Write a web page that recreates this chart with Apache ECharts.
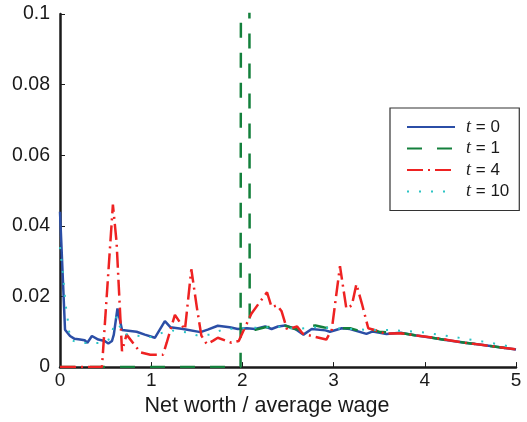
<!DOCTYPE html>
<html>
<head>
<meta charset="utf-8">
<script src="https://cdn.jsdelivr.net/npm/echarts@6/dist/echarts.min.js"></script>
<style>html,body{margin:0;padding:0;background:#fff;}#c{width:527px;height:422px;}</style>
</head>
<body>
<div id="c"></div>
<script>
// t = 0
const x0 = [0, 0.055, 0.11, 0.16, 0.22, 0.27, 0.30, 0.35, 0.42, 0.49, 0.53, 0.57, 0.59, 0.63, 0.68, 0.84, 0.93, 1.04, 1.06, 1.15, 1.21, 1.35, 1.54, 1.62, 1.73, 1.86, 1.95, 2.05, 2.14, 2.25, 2.32, 2.39, 2.47, 2.58, 2.67, 2.76, 2.91, 2.96, 3.09, 3.18, 3.36, 3.43, 3.58, 3.73, 3.89, 4.08, 4.25, 4.44, 4.62, 4.80, 5.0];
const y0 = [0.044, 0.0106, 0.0088, 0.0080, 0.0078, 0.0076, 0.0069, 0.0088, 0.0078, 0.0074, 0.0067, 0.0074, 0.0092, 0.0166, 0.0105, 0.0100, 0.0092, 0.0083, 0.0083, 0.0130, 0.0113, 0.0108, 0.0099, 0.0106, 0.0117, 0.0113, 0.0108, 0.0110, 0.0108, 0.0115, 0.0108, 0.0115, 0.0118, 0.0108, 0.0092, 0.0108, 0.0104, 0.0100, 0.0110, 0.0108, 0.0094, 0.0101, 0.0094, 0.0097, 0.0090, 0.0083, 0.0076, 0.0069, 0.0063, 0.0057, 0.0050];
// t = 1
const x1 = [0, 1.98, 2.03, 2.08, 2.14, 2.25, 2.39, 2.47, 2.58, 2.62, 2.70, 2.80, 2.90, 3.09, 3.18, 3.36, 3.42, 3.50, 3.73, 3.89, 4.08, 4.25, 4.44, 4.62, 4.80, 5.0];
const y1 = [0, 0, 1.5, 0.0110, 0.0106, 0.0113, 0.0115, 0.0117, 0.0108, 0.0106, 0.0115, 0.0118, 0.0112, 0.0110, 0.0110, 0.0097, 0.0106, 0.0100, 0.0097, 0.0090, 0.0083, 0.0076, 0.0069, 0.0063, 0.0057, 0.0050];
// t = 4
const x4 = [0, 0.46, 0.58, 0.62, 0.68, 0.73, 0.88, 0.99, 1.13, 1.17, 1.26, 1.32, 1.37, 1.44, 1.50, 1.55, 1.61, 1.68, 1.73, 1.88, 1.96, 2.01, 2.10, 2.27, 2.32, 2.38, 2.43, 2.49, 2.53, 2.60, 2.66, 2.76, 2.92, 2.98, 3.07, 3.11, 3.14, 3.20, 3.25, 3.31, 3.38, 3.49, 3.56, 3.73, 3.89, 4.08, 4.25, 4.44, 4.62, 4.80, 5.0];
const y4 = [0, 0, 0.046, 0.0355, 0.0045, 0.0092, 0.0042, 0.0035, 0.0035, 0.0069, 0.0148, 0.0125, 0.0106, 0.0277, 0.0170, 0.0089, 0.0065, 0.0075, 0.0083, 0.0069, 0.0074, 0.0102, 0.0152, 0.0212, 0.0170, 0.0175, 0.0158, 0.0106, 0.0110, 0.0115, 0.0095, 0.0088, 0.0078, 0.0106, 0.0286, 0.0217, 0.0166, 0.0175, 0.0235, 0.0180, 0.0110, 0.0102, 0.0095, 0.0096, 0.0090, 0.0084, 0.0077, 0.0069, 0.0063, 0.0057, 0.0050];
// t = 10
const x10 = [0, 0.03, 0.06, 0.09, 0.11, 0.2, 0.3, 0.45, 0.55, 0.62, 0.68, 0.8, 1.0, 1.1, 1.2, 1.4, 1.5, 1.65, 1.8, 2.0, 2.2, 2.4, 2.6, 2.8, 3.0, 3.2, 3.4, 3.6, 3.8, 4.0, 4.2, 4.4, 4.6, 4.8, 5.0];
const y10 = [0.034, 0.027, 0.018, 0.0125, 0.0078, 0.0069, 0.0068, 0.0068, 0.0080, 0.0144, 0.0095, 0.0090, 0.0085, 0.0095, 0.0105, 0.0098, 0.0090, 0.0092, 0.0108, 0.0110, 0.0112, 0.0114, 0.0108, 0.0113, 0.0110, 0.0108, 0.0105, 0.0105, 0.0102, 0.0098, 0.0090, 0.0082, 0.0074, 0.0065, 0.0055];

const seriesNames = ['t = 0', 't = 1', 't = 4', 't = 10'];
const xTicks = [0, 1, 2, 3, 4, 5];
const yTicks = [0, 0.02, 0.04, 0.06, 0.08, 0.1];
const xName = 'Net worth / average wage';

const pairs = (xs, ys) => xs.map((v, i) => [v, ys[i]]);
const FONT = 'Liberation Sans, Arial, sans-serif';

const chart = echarts.init(document.getElementById('c'), null, {renderer: 'canvas'});
const axisCommon = {
  axisLine: {show: true, onZero: false, lineStyle: {color: '#1a1a1a', width: 2.5}},
  axisTick: {show: true, inside: true, length: 5, lineStyle: {color: '#1a1a1a', width: 1}},
  splitLine: {show: false},
};
chart.setOption({
  animation: false,
  backgroundColor: '#fff',
  grid: {left: 60, right: 11, top: 14, bottom: 47, containLabel: false},
  xAxis: Object.assign({
    type: 'value', min: xTicks[0], max: xTicks[xTicks.length - 1], interval: 1,
    name: xName, nameLocation: 'middle', nameGap: 24,
    nameTextStyle: {fontFamily: FONT, fontSize: 21.5, color: '#1a1a1a', padding: [0, 42, 0, 0]},
    axisLabel: {fontFamily: FONT, fontSize: 19, color: '#1a1a1a', margin: 4}
  }, axisCommon),
  yAxis: Object.assign({
    type: 'value', min: yTicks[0], max: yTicks[yTicks.length - 1], interval: 0.02,
    axisLabel: {fontFamily: FONT, fontSize: 19.5, color: '#1a1a1a', margin: 10}
  }, axisCommon),
  legend: {
    orient: 'vertical', left: 390, top: 108,
    padding: [10, 10, 10, 16],
    itemGap: 3.5, itemWidth: 48, itemHeight: 14,
    backgroundColor: '#fff',
    borderColor: '#333', borderWidth: 1.2, borderRadius: 0,
    data: seriesNames,
    itemStyle: {opacity: 0},
    formatter: n => '{i|t}' + n.slice(1),
    textStyle: {
      fontFamily: FONT, fontSize: 17, lineHeight: 18, color: '#1a1a1a', padding: [0, 0, 0, 6],
      rich: {i: {fontFamily: 'Liberation Serif, serif', fontStyle: 'italic', fontSize: 18, lineHeight: 18, color: '#1a1a1a'}}
    }
  },
  series: [
    {name: seriesNames[0], type: 'line', symbol: 'none', clip: true, data: pairs(x0, y0),
     lineStyle: {color: '#2b4ea6', width: 2.5}, itemStyle: {color: '#2b4ea6'}},
    {name: seriesNames[1], type: 'line', symbol: 'none', clip: true, data: pairs(x1, y1),
     lineStyle: {color: '#14803c', width: 2.5, type: [15, 15]}, itemStyle: {color: '#14803c'}},
    {name: seriesNames[2], type: 'line', symbol: 'none', clip: true, data: pairs(x4, y4),
     lineStyle: {color: '#ee2222', width: 2.5, type: [16, 5, 2, 5]}, itemStyle: {color: '#ee2222'}},
    {name: seriesNames[3], type: 'line', symbol: 'none', clip: true, data: pairs(x10, y10),
     lineStyle: {color: '#2cc4c4', width: 2, type: [2, 10]}, itemStyle: {color: '#2cc4c4'}}
  ]
});
</script>
</body>
</html>
